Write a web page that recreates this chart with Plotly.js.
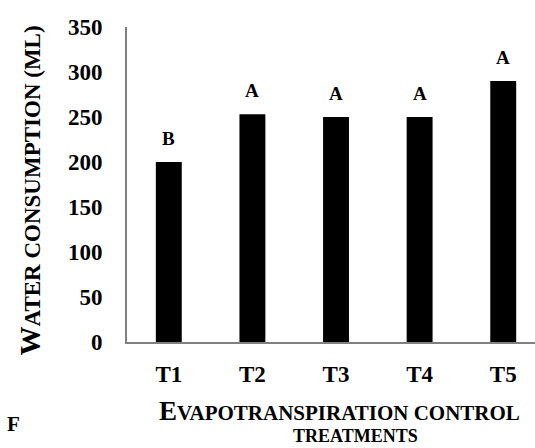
<!DOCTYPE html>
<html><head><meta charset="utf-8">
<script src="https://cdn.plot.ly/plotly-3.0.1.min.js"></script>
<style>html,body{margin:0;padding:0;background:#fff}</style>
</head><body>
<div id="chart" style="width:535px;height:448px"></div>
<script>
const categories = ["T1", "T2", "T3", "T4", "T5"];
const waterConsumption = [200, 253, 250, 250, 290];
const groupLetters = ["B", "A", "A", "A", "A"];
const yTicks = [0, 50, 100, 150, 200, 250, 300, 350];
const xTitleLine1 = "<span style='font-size:27px'>E</span>VAPOTRANSPIRATION CONTROL";
const xTitleLine2 = "TREATMENTS";
const yTitle = "<span style='font-size:29px'>W</span>ATER CONSUMPTION (ML)";
const panelLabel = "F";

const FONT = "Liberation Serif, Times New Roman, serif";

const trace = {
  type: "bar",
  x: categories,
  y: waterConsumption,
  width: 0.31,
  marker: {color: "#000000", line: {width: 0}},
  hoverinfo: "none"
};

const annotations = categories.map((c, i) => ({
  x: c, y: waterConsumption[i], xref: "x", yref: "y",
  text: "<b>" + groupLetters[i] + "</b>", showarrow: false,
  yanchor: "bottom", yshift: 11,
  font: {family: FONT, size: 19, color: "#000"}
}));

annotations.push({
  xref: "paper", yref: "paper", x: 0.52, y: 0, xanchor: "center", yanchor: "middle",
  yshift: -69, text: "<b>" + xTitleLine1 + "</b>", showarrow: false,
  font: {family: FONT, size: 21, color: "#000"}
});
annotations.push({
  xref: "paper", yref: "paper", x: 0.559, y: 0, xanchor: "center", yanchor: "middle",
  yshift: -94, text: "<b>" + xTitleLine2 + "</b>", showarrow: false,
  font: {family: FONT, size: 18, color: "#000"}
});
annotations.push({
  xref: "paper", yref: "paper", x: 0, y: 0.5, xanchor: "center", yanchor: "middle",
  xshift: -98, yshift: -6, textangle: -90,
  text: "<b>" + yTitle + "</b>", showarrow: false,
  font: {family: FONT, size: 23, color: "#000"}
});
annotations.push({
  xref: "paper", yref: "paper", x: 0, y: 0, xanchor: "center", yanchor: "middle",
  xshift: -114, yshift: -82,
  text: "<b>" + panelLabel + "</b>", showarrow: false,
  font: {family: FONT, size: 21, color: "#000"}
});

const layout = {
  width: 535, height: 448,
  margin: {l: 127, r: 0, t: 27, b: 106},
  paper_bgcolor: "#fff", plot_bgcolor: "#fff",
  showlegend: false,
  font: {family: FONT, color: "#000"},
  xaxis: {
    type: "category",
    range: [-0.5, 4.38],
    showgrid: false, zeroline: false,
    showline: true, linecolor: "#808080", linewidth: 2,
    ticks: "", ticklen: 0,
    tickvals: categories,
    ticktext: categories.map(c => "<b>" + c + "</b>"),
    tickfont: {family: FONT, size: 23, color: "#000"},
    ticklabelstandoff: 10
  },
  yaxis: {
    range: [0, 350],
    tickvals: yTicks,
    ticktext: yTicks.map(v => "<b>" + v + "</b>"),
    showgrid: false, zeroline: false,
    showline: true, linecolor: "#808080", linewidth: 2,
    ticks: "", ticklen: 0,
    tickfont: {family: FONT, size: 23, color: "#000"},
    ticklabelstandoff: 18
  },
  annotations: annotations
};

Plotly.newPlot("chart", [trace], layout, {displayModeBar: false, staticPlot: true});
</script>
</body></html>
